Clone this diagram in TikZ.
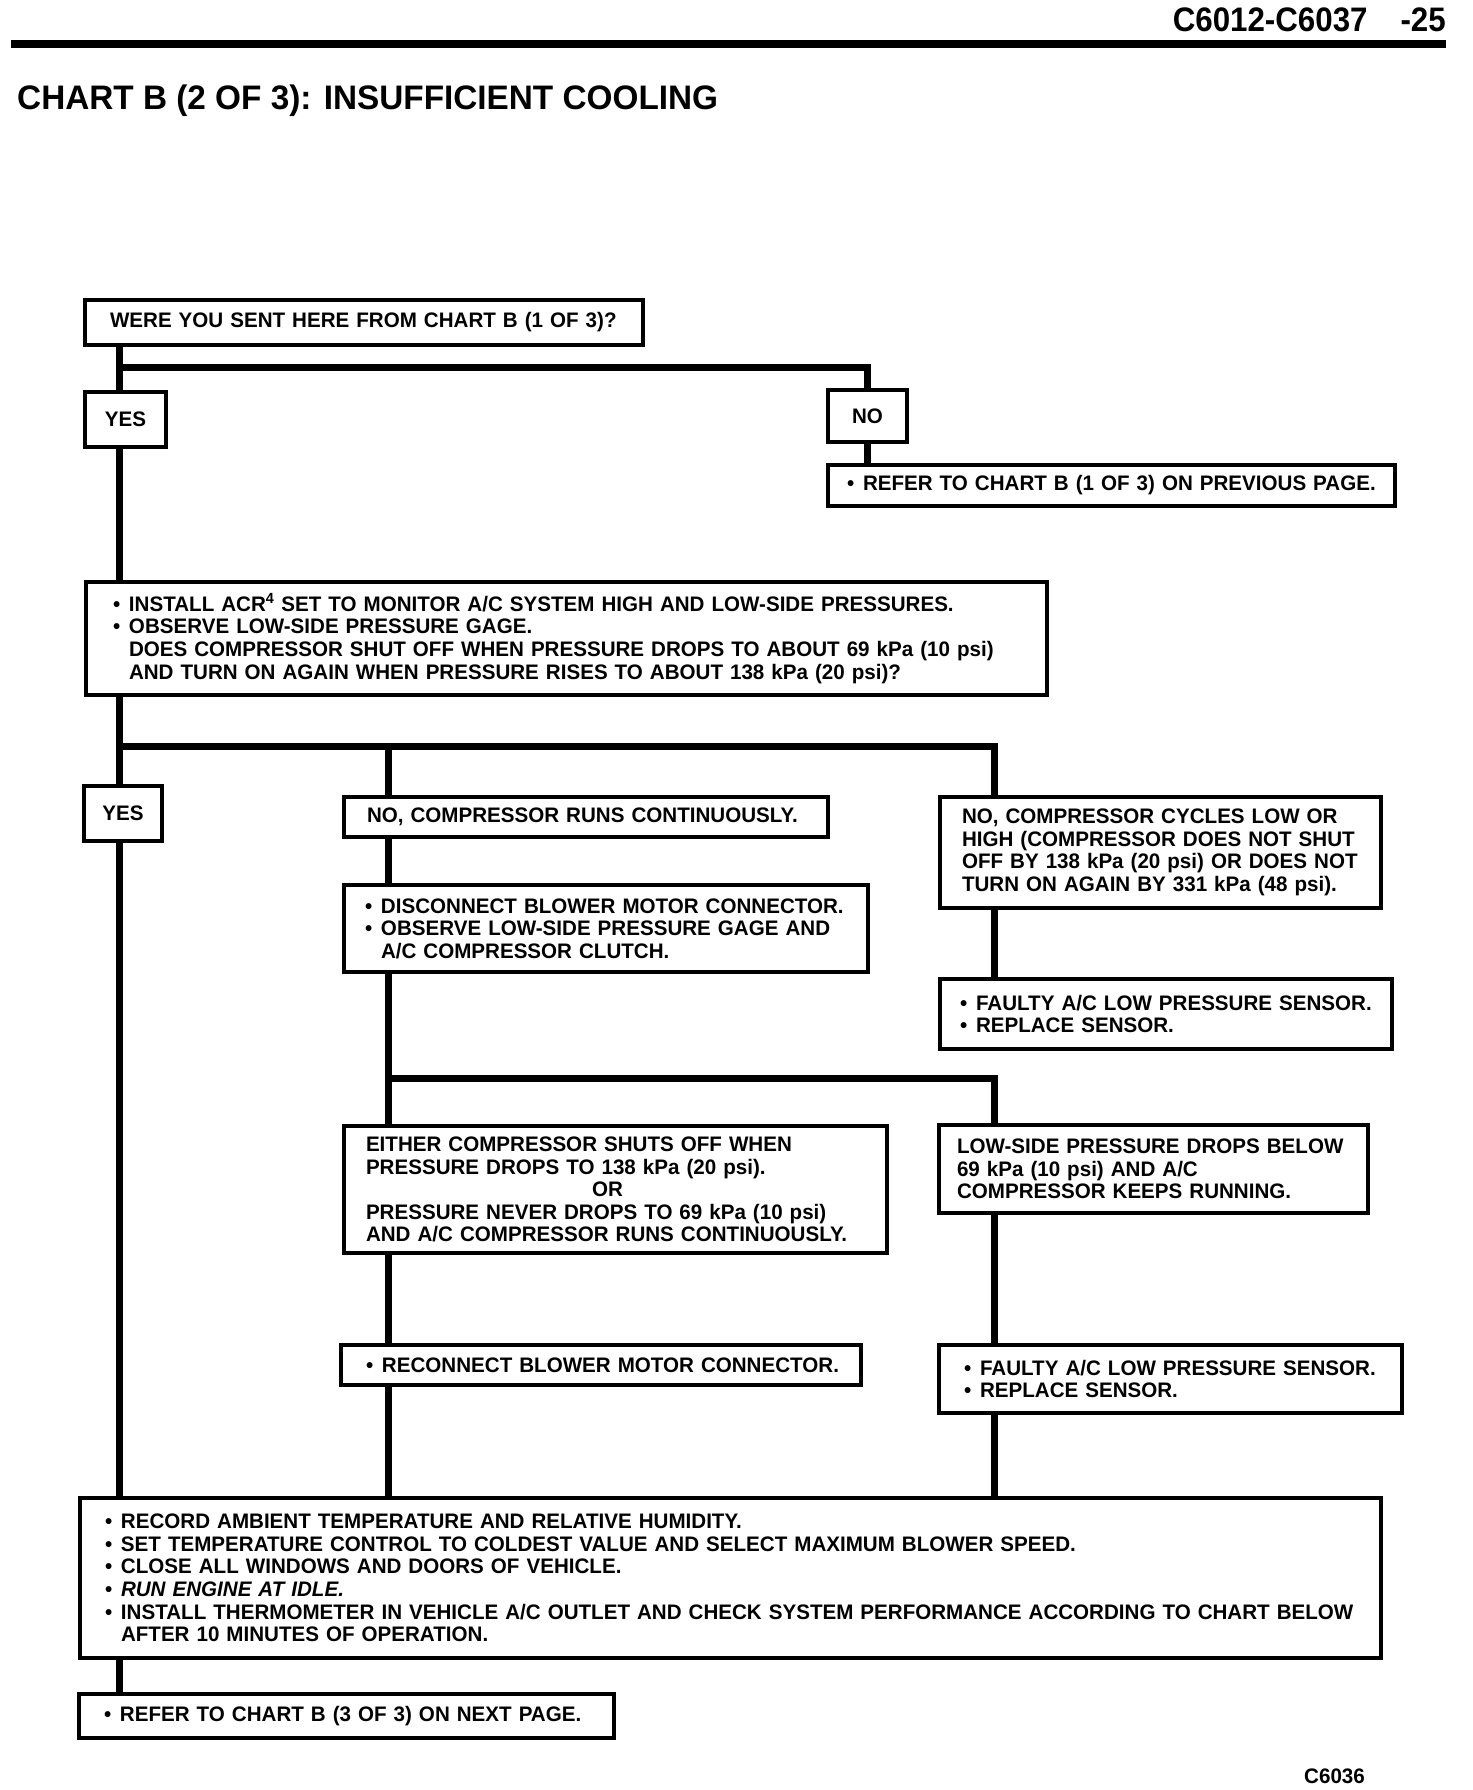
\documentclass[tikz,border=0pt]{standalone}
\usepackage{fontspec}
\setmainfont{Liberation Sans}[FakeStretch=0.98]
\newfontfamily\headfont{Liberation Sans}[FakeStretch=0.92]
\usetikzlibrary{positioning, backgrounds}
\newcommand{\bul}{\makebox[16pt][l]{•}}
\newcommand{\ind}{\hspace*{16pt}}

\begin{document}
\begin{tikzpicture}[x=1pt, y=-1pt,
    frame/.style={draw, line width=4pt, fill=white, anchor=north west,
        inner xsep=0pt, inner ysep=0pt, font=\fontsize{21}{22.6}\selectfont\bfseries},
    box/.style={frame, align=left, execute at begin node={\leftskip=#1}},
    box/.default=22pt,
    tag/.style={frame, align=center},
    conn/.style={line width=7pt}]
    \useasboundingbox (0,0) rectangle (1472,1790);

    % page head
    \node[anchor=base east, inner sep=0pt, font=\headfont\fontsize{34}{36}\selectfont\bfseries] (pagehead) at (1446,32) {C6012-C6037\hspace{33pt}-25};
    \draw[line width=8pt] (11,44) -- (1446,44);
    \node[anchor=base west, inner sep=0pt, font=\fontsize{34}{36}\selectfont\bfseries] (title) at (17,110) {CHART B (2 OF 3): INSUFFICIENT COOLING};

    % column lines
    \coordinate (col1) at (119,0);
    \coordinate (col2) at (388,0);
    \coordinate (col3) at (994,0);
    \coordinate (br1) at (0,367);
    \coordinate (br2) at (0,746);
    \coordinate (br3) at (0,1078);

    % boxes
    \node[box=25pt, minimum width=558pt, minimum height=45pt, text width=558pt] (qsent) at (83,298) {WERE YOU SENT HERE FROM CHART B (1 OF 3)?};
    \node[tag, minimum width=81pt, minimum height=55pt, text width=81pt] (yes1) at (83,390) {YES};
    \node[tag, minimum width=79pt, minimum height=52pt, text width=79pt] (no1) at (826,388) {NO};
    \node[box=19pt, minimum width=567pt, minimum height=41pt, text width=567pt] (refprev) at (826,463) {\bul REFER TO CHART B (1 OF 3) ON PREVIOUS PAGE.};
    \node[box=27pt, minimum width=961pt, minimum height=113pt, text width=961pt] (acr) at (84,580)
        {\bul INSTALL ACR\textsuperscript{4} SET TO MONITOR A/C SYSTEM HIGH AND LOW-SIDE PRESSURES.\\
         \bul OBSERVE LOW-SIDE PRESSURE GAGE.\\
         \ind DOES COMPRESSOR SHUT OFF WHEN PRESSURE DROPS TO ABOUT 69 kPa (10 psi)\\
         \ind AND TURN ON AGAIN WHEN PRESSURE RISES TO ABOUT 138 kPa (20 psi)?};
    \node[tag, minimum width=78pt, minimum height=55pt, text width=78pt] (yes2) at (82,784) {YES};
    \node[box=23pt, minimum width=484pt, minimum height=40pt, text width=484pt] (nocont) at (342,795) {NO, COMPRESSOR RUNS CONTINUOUSLY.};
    \node[box=21pt, minimum width=524pt, minimum height=87pt, text width=524pt] (discon) at (342,883)
        {\bul DISCONNECT BLOWER MOTOR CONNECTOR.\\
         \bul OBSERVE LOW-SIDE PRESSURE GAGE AND\\
         \ind A/C COMPRESSOR CLUTCH.};
    \node[box=22pt, minimum width=441pt, minimum height=111pt, text width=441pt] (cycles) at (938,795)
        {NO, COMPRESSOR CYCLES LOW OR\\
         HIGH (COMPRESSOR DOES NOT SHUT\\
         OFF BY 138 kPa (20 psi) OR DOES NOT\\
         TURN ON AGAIN BY 331 kPa (48 psi).};
    \node[box=20pt, minimum width=452pt, minimum height=70pt, text width=452pt] (faulty1) at (938,977)
        {\bul FAULTY A/C LOW PRESSURE SENSOR.\\
         \bul REPLACE SENSOR.};
    \node[box=22pt, minimum width=543pt, minimum height=127pt, text width=543pt] (either) at (342,1124)
        {EITHER COMPRESSOR SHUTS OFF WHEN\\
         PRESSURE DROPS TO 138 kPa (20 psi).\\
         \hspace*{226pt}OR\\
         PRESSURE NEVER DROPS TO 69 kPa (10 psi)\\
         AND A/C COMPRESSOR RUNS CONTINUOUSLY.};
    \node[box=18pt, minimum width=429pt, minimum height=88pt, text width=429pt] (lowside) at (937,1123)
        {LOW-SIDE PRESSURE DROPS BELOW\\
         69 kPa (10 psi) AND A/C\\
         COMPRESSOR KEEPS RUNNING.};
    \node[box=25pt, minimum width=520pt, minimum height=40pt, text width=520pt] (reconn) at (339,1343) {\bul RECONNECT BLOWER MOTOR CONNECTOR.};
    \node[box=25pt, minimum width=463pt, minimum height=68pt, text width=463pt] (faulty2) at (937,1343)
        {\bul FAULTY A/C LOW PRESSURE SENSOR.\\
         \bul REPLACE SENSOR.};
    \node[box=25pt, minimum width=1301pt, minimum height=160pt, text width=1301pt] (final) at (78,1496)
        {\bul RECORD AMBIENT TEMPERATURE AND RELATIVE HUMIDITY.\\
         \bul SET TEMPERATURE CONTROL TO COLDEST VALUE AND SELECT MAXIMUM BLOWER SPEED.\\
         \bul CLOSE ALL WINDOWS AND DOORS OF VEHICLE.\\
         \bul \textit{RUN ENGINE AT IDLE.}\\
         \bul INSTALL THERMOMETER IN VEHICLE A/C OUTLET AND CHECK SYSTEM PERFORMANCE ACCORDING TO CHART BELOW\\
         \ind AFTER 10 MINUTES OF OPERATION.};
    \node[box=25pt, minimum width=535pt, minimum height=44pt, text width=535pt] (refnext) at (77,1692) {\bul REFER TO CHART B (3 OF 3) ON NEXT PAGE.};
    \node[anchor=base west, inner sep=0pt, font=\fontsize{21}{22}\selectfont\bfseries] (figno) at (1304,1783) {C6036};

    % connectors
    \begin{scope}[on background layer]
    \draw[conn] (qsent.south -| col1) -- (col1 |- yes1.north);
    \draw[conn] (col1 |- br1) -| (no1.north);
    \draw[conn] (no1.south) -- (no1.south |- refprev.north);
    \draw[conn] (col1 |- yes1.south) -- (col1 |- acr.north);
    \draw[conn] (acr.south -| col1) -- (col1 |- yes2.north);
    \draw[conn] (col1 |- br2) -| (col3 |- cycles.north);
    \draw[conn] (col2 |- br2) -- (col2 |- nocont.north);
    \draw[conn] (col2 |- nocont.south) -- (col2 |- discon.north);
    \draw[conn] (col2 |- discon.south) -- (col2 |- either.north);
    \draw[conn] (col2 |- br3) -| (col3 |- lowside.north);
    \draw[conn] (col3 |- cycles.south) -- (col3 |- faulty1.north);
    \draw[conn] (col2 |- either.south) -- (col2 |- reconn.north);
    \draw[conn] (col2 |- reconn.south) -- (col2 |- final.north);
    \draw[conn] (col3 |- lowside.south) -- (col3 |- faulty2.north);
    \draw[conn] (col3 |- faulty2.south) -- (col3 |- final.north);
    \draw[conn] (col1 |- yes2.south) -- (col1 |- final.north);
    \draw[conn] (col1 |- final.south) -- (col1 |- refnext.north);
    \end{scope}
\end{tikzpicture}
\end{document}
